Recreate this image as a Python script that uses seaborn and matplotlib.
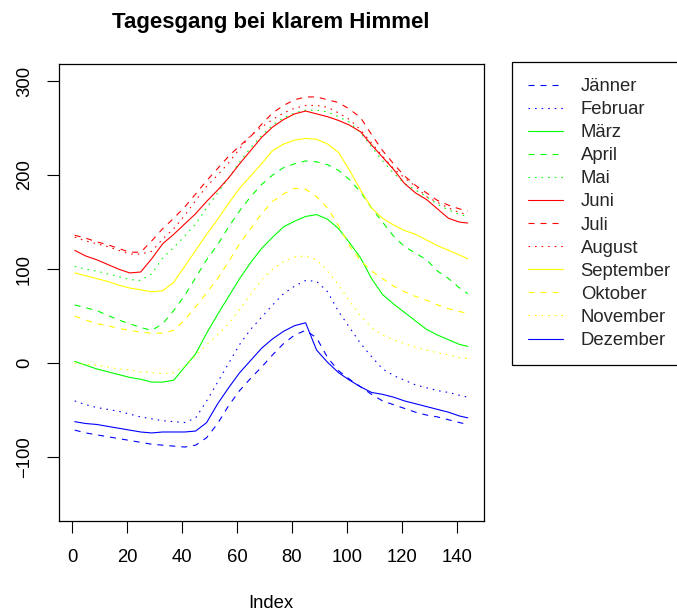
import matplotlib
matplotlib.use("Agg")
import matplotlib.pyplot as plt
import pandas as pd
import seaborn as sns

# Time-of-day index (10-minute steps) at which each monthly curve is sampled
index = [1, 5, 9, 13, 17, 21, 25, 29, 33, 37, 41, 45, 49, 53, 57, 61, 65, 69, 73,
         77, 81, 85, 89, 93, 97, 101, 105, 109, 113, 117, 121, 125, 129, 133, 137,
         141, 144]

jaenner = [-71, -74, -76, -78, -80, -82, -84, -86, -87, -88, -89, -87, -79, -64, -45,
           -29, -16, -4, 9, 21, 30, 35, 27, 6, -8, -17, -25, -33, -40, -44, -48, -52,
           -55, -57, -60, -63, -65]
februar = [-40, -44, -47, -49, -51, -54, -57, -59, -61, -62, -63, -58, -40, -20, 0,
           20, 36, 49, 62, 74, 82, 88, 87, 76, 55, 38, 21, 7, -6, -13, -18, -23, -26,
           -29, -31, -34, -36]
maerz = [2, -2, -6, -9, -12, -15, -17, -20, -20, -18, -4, 10, 32, 52, 71, 90, 107,
         122, 134, 145, 151, 156, 158, 153, 143, 128, 112, 90, 73, 63, 54, 45, 36, 30,
         25, 20, 18]
april = [62, 59, 56, 51, 46, 42, 38, 35, 42, 56, 72, 91, 110, 126, 145, 162, 177, 190,
         200, 208, 212, 215, 214, 211, 205, 195, 182, 165, 150, 135, 124, 117, 110, 98,
         90, 80, 74]
mai = [103, 100, 98, 95, 92, 89, 88, 95, 112, 123, 135, 148, 165, 181, 197, 214, 229,
       242, 253, 261, 266, 269, 269, 267, 262, 256, 245, 230, 215, 202, 191, 184, 177,
       169, 163, 158, 156]
juni = [120, 114, 110, 105, 100, 96, 97, 111, 127, 137, 148, 159, 172, 184, 197, 212,
        226, 240, 251, 259, 265, 268, 265, 262, 258, 253, 246, 232, 219, 206, 191, 181,
        174, 164, 154, 150, 149]
juli = [136, 133, 129, 126, 122, 118, 118, 130, 143, 154, 166, 180, 194, 207, 220, 231,
        241, 254, 266, 274, 280, 283, 283, 280, 277, 270, 261, 243, 226, 212, 199, 189,
        181, 173, 168, 164, 162]
august = [134, 130, 127, 124, 120, 116, 116, 119, 132, 143, 157, 173, 188, 200, 213, 228,
          242, 251, 259, 266, 271, 274, 274, 272, 266, 259, 248, 234, 220, 207, 197, 188,
          177, 171, 165, 160, 158]
september = [96, 93, 90, 87, 83, 80, 78, 76, 77, 86, 103, 120, 137, 153, 170, 186, 199,
             212, 226, 233, 237, 239, 238, 233, 224, 205, 184, 165, 154, 147, 141, 137,
             131, 125, 120, 115, 111]
oktober = [50, 46, 42, 40, 37, 35, 33, 32, 32, 35, 46, 60, 75, 90, 108, 127, 143, 159,
           172, 180, 186, 185, 177, 165, 146, 125, 109, 98, 90, 82, 76, 71, 67, 62, 58,
           55, 53]
november = [0, -1, -2, -4, -6, -7, -9, -10, -11, -10, -3, 8, 20, 30, 42, 57, 73, 89, 100,
            108, 113, 114, 110, 98, 83, 66, 50, 38, 30, 25, 21, 17, 14, 11, 9, 6, 5]
dezember = [-62, -64, -65, -67, -69, -71, -73, -74, -73, -73, -73, -72, -63, -43, -26,
            -10, 3, 16, 26, 34, 40, 43, 14, 1, -10, -18, -25, -31, -33, -36, -40, -43,
            -46, -49, -52, -56, -58]

monate = ["Jänner", "Februar", "März", "April", "Mai", "Juni", "Juli", "August",
          "September", "Oktober", "November", "Dezember"]
werte = [jaenner, februar, maerz, april, mai, juni, juli, august, september,
         oktober, november, dezember]
farben = ["blue", "blue", "#00ff00", "#00ff00", "#00ff00", "red", "red", "red",
          "yellow", "yellow", "yellow", "blue"]
linientyp = ["gestrichelt", "gepunktet", "durchgezogen"] * 4

strich = {"durchgezogen": "", "gestrichelt": (5.4, 5.4), "gepunktet": (1.4, 4.5)}

df = pd.concat(
    [pd.DataFrame({"Index": index, "Wert": w, "Monat": m}) for m, w in zip(monate, werte)],
    ignore_index=True,
)

sns.set_theme(style="white")
plt.rcParams["font.family"] = ["Liberation Sans", "DejaVu Sans"]
plt.rcParams["axes.unicode_minus"] = True

fig = plt.figure(figsize=(6.77, 6.13), dpi=100)
ax = fig.add_axes([59 / 677, 1 - 521.4 / 613, 424.5 / 677, 457.4 / 613])

sns.lineplot(
    data=df, x="Index", y="Wert", hue="Monat", style="Monat",
    hue_order=monate, style_order=monate,
    palette=dict(zip(monate, farben)),
    dashes={m: strich[t] for m, t in zip(monate, linientyp)},
    estimator=None, sort=False, linewidth=0.8, legend=False, ax=ax,
)

ax.set_xlim(-4.72, 149.72)
ax.set_ylim(-168, 318)
ax.set_xticks(range(0, 141, 20))
ax.set_yticks(range(-100, 301, 100))

for s in ax.spines.values():
    s.set_visible(True)
    s.set_color("black")
    s.set_linewidth(0.9)

ax.tick_params(axis="both", direction="out", length=8.8, width=0.8, color="black",
               labelsize=13.3, labelcolor="black", left=True, bottom=True)
ax.tick_params(axis="x", pad=11.0)
ax.tick_params(axis="y", pad=10.0)
for lab in ax.get_yticklabels():
    lab.set_rotation(90)
    lab.set_va("center")

ax.set_xlabel("Index", fontsize=13.3, color="black", labelpad=21)
ax.set_ylabel("")
ax.set_title("Tagesgang bei klarem Himmel", fontsize=16, fontweight="bold",
             color="black", pad=26)

leg = fig.legend(
    ax.get_lines(), monate,
    loc="upper left", bbox_to_anchor=(512.3 / 677, 1 - 62.3 / 613),
    bbox_transform=fig.transFigure, borderaxespad=0,
    fontsize=13.3, handlelength=1.91, handletextpad=0.94,
    labelspacing=0.33, borderpad=0.85, frameon=True, fancybox=False,
    framealpha=1, edgecolor="black",
)
leg.get_frame().set_linewidth(0.9)

fig.savefig("out.png", dpi=100, facecolor="white")
